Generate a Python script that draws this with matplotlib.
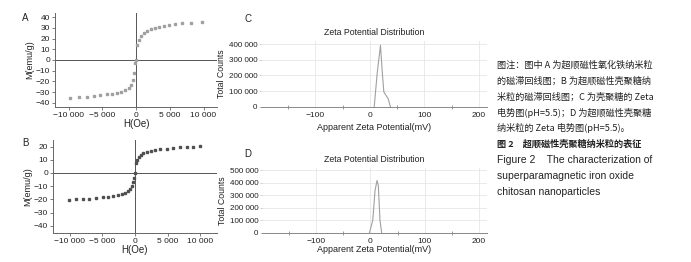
import matplotlib
matplotlib.use("Agg")
import matplotlib.pyplot as plt
from matplotlib.ticker import FixedLocator

plt.rcParams['font.family'] = ['Liberation Sans', 'DejaVu Sans']

# ---------------- data ----------------
H_A = [-9750, -8420, -7330, -6290, -5300, -4360, -3560, -2870, -2280, -1630, -1090, -690, -450, -300, -150, 0,
       150, 400, 740, 1140, 1630, 2230, 2820, 3470, 4110, 4850, 5790, 6830, 8170, 9800]
M_A = [-35.5, -35.0, -34.5, -33.8, -33.1, -32.2, -31.6, -30.6, -29.7, -28.1, -25.9, -23.4, -18.8, -12.5, -3.0, 0.0,
       14.0, 18.8, 22.8, 25.0, 27.2, 29.0, 30.3, 31.3, 32.2, 33.1, 33.8, 34.4, 35.0, 35.5]

H_B = [-10100, -9080, -8050, -7030, -6000, -4970, -4100, -3330, -2670, -2050, -1540, -1130, -770, -510, -310, -150, 0,
       150, 360, 620, 920, 1280, 1800, 2460, 3080, 3850, 4870, 5900, 6920, 7950, 8970, 10000]
M_B = [-20.2, -20.0, -19.8, -19.5, -19.0, -18.5, -18.0, -17.6, -16.8, -16.1, -15.1, -13.9, -12.2, -9.8, -6.8, -3.7, 0.0,
       7.3, 10.2, 12.2, 13.9, 15.1, 16.1, 16.8, 17.6, 18.0, 18.5, 19.0, 19.5, 19.7, 19.95, 20.2]

zeta_C = [7.9, 13.3, 19.4, 22.4, 25.5, 30.3, 33.3, 37.6]
counts_C = [0, 212000, 393000, 234000, 95000, 68000, 53000, 0]

zeta_D = [-1.8, 4.3, 8.5, 12.2, 14.5, 17.6, 20.7]
counts_D = [0, 100000, 340000, 420000, 380000, 100000, 0]

H_ticks = [-10000, -5000, 0, 5000, 10000]
H_ticklabels = ['\u221210 000', '\u22125 000', '0', '5 000', '10 000']
MA_ticks = [-40, -30, -20, -10, 0, 10, 20, 30, 40]
MB_ticks = [-40, -30, -20, -10, 0, 10, 20]
zeta_ticks = [-100, 0, 100, 200]
zeta_ticklabels = ['\u2212100', '0', '100', '200']
zeta_minor = [-150, -50, 50, 150]
C_yticks = [0, 100000, 200000, 300000, 400000]
C_yticklabels = ['0', '100 000', '200 000', '300 000', '400 000']
D_yticks = [0, 100000, 200000, 300000, 400000, 500000]
D_yticklabels = ['0', '100 000', '200 000', '300 000', '400 000', '500 000']

caption_lines = [
    "图注：图中 A 为超顺磁性氧化铁纳米粒",
    "的磁滞回线图；B 为超顺磁性壳聚糖纳",
    "米粒的磁滞回线图；C 为壳聚糖的 Zeta",
    "电势图(pH=5.5)；D 为超顺磁性壳聚糖",
    "纳米粒的 Zeta 电势图(pH=5.5)。",
]
caption_title_cn = "图 2　超顺磁性壳聚糖纳米粒的表征"
caption_en = [
    "Figure 2    The characterization of",
    "superparamagnetic iron oxide",
    "chitosan nanoparticles",
]

# ---------------- figure ----------------
W, Hh = 691, 262
fig = plt.figure(figsize=(W / 100, Hh / 100), dpi=100)
fig.patch.set_facecolor('white')


def add_ax(x0, y0, x1, y1):
    return fig.add_axes([x0 / W, 1 - y1 / Hh, (x1 - x0) / W, (y1 - y0) / Hh])


TXT = '#222222'


def style_mag(ax, yt, ylim, xlim):
    ax.set_xlim(*xlim)
    ax.set_ylim(*ylim)
    for s in ['top', 'right']:
        ax.spines[s].set_visible(False)
    for s in ['left', 'bottom']:
        ax.spines[s].set_color('#666666')
        ax.spines[s].set_linewidth(0.7)
    ax.axhline(0, color='#555555', lw=0.7, zorder=1)
    ax.axvline(0, color='#555555', lw=0.7, zorder=1)
    ax.set_xticks(H_ticks)
    ax.set_xticklabels(H_ticklabels)
    ax.set_yticks(yt)
    ax.set_yticklabels(['\u2212%d' % -v if v < 0 else str(v) for v in yt])
    ax.tick_params(axis='both', labelsize=6, colors='#666666', labelcolor=TXT,
                   length=2, width=0.6, pad=1.5, direction='out')
    ax.set_xlabel('H(Oe)', fontsize=7, color=TXT, labelpad=0)
    ax.set_ylabel('M(emu/g)', fontsize=6.5, color=TXT, labelpad=1)


# Panel A
axA = add_ax(55, 13, 217, 107)
axA.plot(H_A, M_A, 's', ms=2.0, color='#a0a0a0', mec='#a0a0a0', zorder=3)
style_mag(axA, MA_ticks, (-44, 44), (-12000, 12000))
fig.text(25 / W, 1 - 18 / Hh, 'A', fontsize=7, ha='center', va='center', color=TXT)

# Panel B
axB = add_ax(53, 140, 217, 233)
axB.plot(H_B, M_B, 's', ms=2.0, color='#505050', mec='#505050', zorder=3)
style_mag(axB, MB_ticks, (-45.5, 25), (-12600, 12600))
fig.text(25 / W, 1 - 143 / Hh, 'B', fontsize=7, ha='center', va='center', color=TXT)


def style_zeta(ax, yt, ytl, ylim, xpad, xlabelpad):
    ax.set_xlim(-200, 215)
    ax.set_ylim(*ylim)
    for s in ['top', 'right', 'left']:
        ax.spines[s].set_visible(False)
    ax.spines['bottom'].set_color('#888888')
    ax.spines['bottom'].set_linewidth(0.7)
    ax.set_xticks(zeta_ticks)
    ax.set_xticklabels(zeta_ticklabels)
    ax.xaxis.set_minor_locator(FixedLocator(zeta_minor))
    ax.set_yticks(yt)
    ax.set_yticklabels(ytl)
    ax.grid(True, which='major', color='#e6e6e6', lw=0.6)
    ax.tick_params(axis='x', which='major', length=0, labelsize=6, labelcolor=TXT, pad=xpad)
    ax.tick_params(axis='x', which='minor', length=2.5, width=0.6, color='#888888', direction='inout')
    ax.tick_params(axis='y', length=1.5, width=0.5, color='#bbbbbb', labelsize=5.8, labelcolor=TXT, pad=1)
    ax.set_title('Zeta Potential Distribution', fontsize=6.3, color=TXT, pad=4)
    ax.set_xlabel('Apparent Zeta Potential(mV)', fontsize=6.5, color=TXT, labelpad=xlabelpad)
    ax.set_ylabel('Total Counts', fontsize=6.3, color=TXT, labelpad=2)
    ax.set_axisbelow(True)


# Panel C
axC = add_ax(261, 41, 487, 106.7)
axC.plot(zeta_C, counts_C, '-', color='#a0a0a0', lw=0.8)
style_zeta(axC, C_yticks, C_yticklabels, (0, 420000), 3.5, 3)
fig.text(248 / W, 1 - 19 / Hh, 'C', fontsize=7, ha='center', va='center', color=TXT)

# Panel D
axD = add_ax(262, 168, 487, 232.7)
axD.plot(zeta_D, counts_D, '-', color='#a0a0a0', lw=0.8)
style_zeta(axD, D_yticks, D_yticklabels, (0, 520000), 3.5, 0)
fig.text(248 / W, 1 - 154 / Hh, 'D', fontsize=7, ha='center', va='center', color=TXT)

# Caption
cjk = ['Noto Sans CJK SC', 'DejaVu Sans']
ys = [65, 81, 97, 112.5, 128]
for y, t in zip(ys, caption_lines):
    fig.text(497 / W, 1 - y / Hh, t, fontsize=6.6, family=cjk, ha='left', va='center', color=TXT)
fig.text(497 / W, 1 - 144 / Hh, caption_title_cn, fontsize=6.6, family=cjk, weight='bold',
         ha='left', va='center', color=TXT)
for y, t in zip([160, 176, 192], caption_en):
    fig.text(497 / W, 1 - y / Hh, t, fontsize=7.5, ha='left', va='center', color=TXT)

fig.savefig('out.png', dpi=100, facecolor='white')
